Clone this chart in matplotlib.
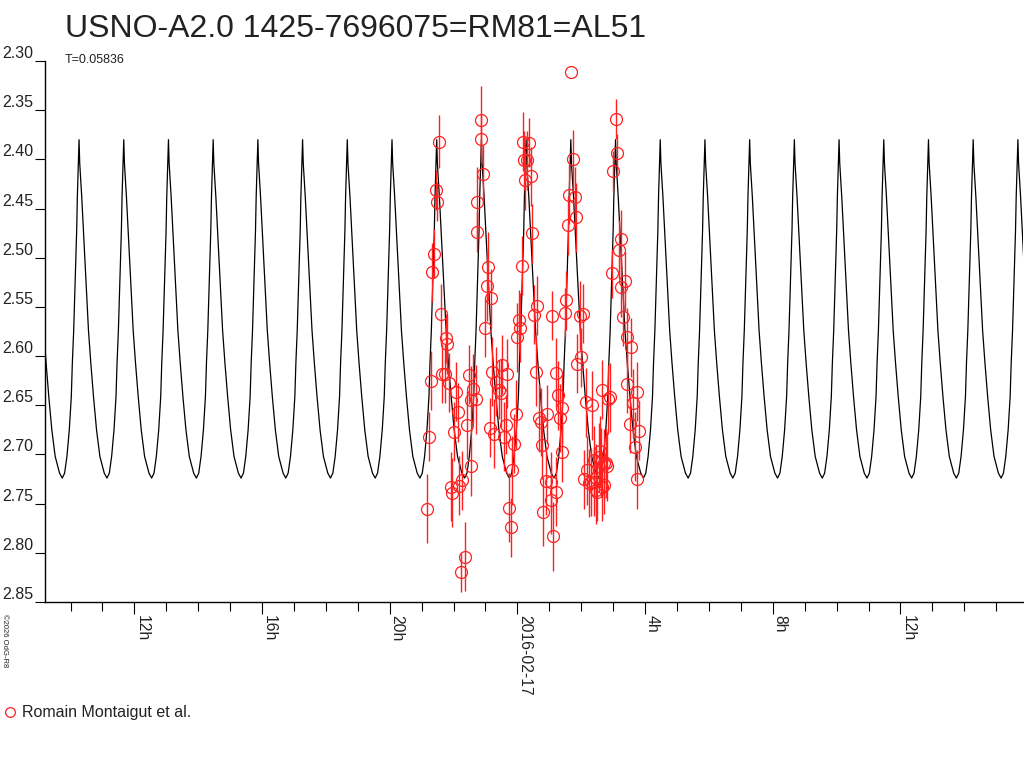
import numpy as np
import matplotlib
matplotlib.use("Agg")
import matplotlib.pyplot as plt
import matplotlib.dates as mdates
from matplotlib.ticker import FixedLocator, FuncFormatter, NullFormatter
from matplotlib.transforms import blended_transform_factory
from matplotlib.lines import Line2D
from datetime import datetime

plt.rcParams['font.family'] = ['Liberation Sans', 'DejaVu Sans']

# ---------------- data ----------------
title = "USNO-A2.0 1425-7696075=RM81=AL51"
period_days = 0.05836
period_label = "T=0.05836"
observer = "Romain Montaigut et al."
epoch_peak_hours = 28.475          # hours after 2016-02-16 00:00 UT (time of a light maximum)

# one cycle of the model light curve (phase 0 = maximum)
template_phase = [0.000, 0.015, 0.060, 0.098, 0.135, 0.173, 0.211, 0.263, 0.323, 0.391,
                  0.466, 0.564, 0.624, 0.677, 0.729, 0.782, 0.827, 0.850, 0.880, 0.902,
                  0.925, 0.947, 0.962, 0.985, 1.000]
template_mag = [2.380, 2.404, 2.438, 2.472, 2.506, 2.540, 2.574, 2.607, 2.641, 2.675,
                2.702, 2.719, 2.724, 2.719, 2.702, 2.675, 2.641, 2.607, 2.574, 2.540,
                2.506, 2.472, 2.438, 2.404, 2.380]

# observations: hours after 2016-02-16 00:00 UT, magnitude, error
obs_hours = [21.172, 21.234, 21.297, 21.328, 21.391, 21.453, 21.484, 21.547, 21.609, 21.641,
             21.734, 21.766, 21.797, 21.859, 21.922, 21.953, 22.016, 22.078, 22.141, 22.172,
             22.234, 22.266, 22.359, 22.422, 22.484, 22.547, 22.547, 22.609, 22.703, 22.734,
             22.734, 22.859, 22.859, 22.922, 22.984, 23.047, 23.078, 23.141, 23.172, 23.203,
             23.266, 23.328, 23.422, 23.484, 23.516, 23.578, 23.641, 23.672, 23.734, 23.797,
             23.828, 23.891, 23.953, 23.984, 24.047, 24.078, 24.141, 24.172, 24.203, 24.234,
             24.297, 24.359, 24.422, 24.453, 24.516, 24.578, 24.609, 24.672, 24.734, 24.766,
             24.797, 24.891, 24.922, 25.047, 25.047, 25.078, 25.109, 25.203, 25.203, 25.266,
             25.328, 25.391, 25.391, 25.484, 25.516, 25.578, 25.609, 25.672, 25.734, 25.797,
             25.828, 25.859, 25.953, 25.984, 26.047, 26.078, 26.141, 26.172, 26.234, 26.297,
             26.328, 26.391, 26.391, 26.453, 26.453, 26.484, 26.547, 26.578, 26.609, 26.641,
             26.641, 26.703, 26.703, 26.766, 26.797, 26.828, 26.891, 26.953, 26.984, 27.078,
             27.109, 27.172, 27.234, 27.234, 27.297, 27.359, 27.422, 27.422, 27.547, 27.516,
             27.609, 27.672, 27.734, 27.734, 27.797]
obs_mag = [2.755, 2.682, 2.625, 2.515, 2.496, 2.431, 2.443, 2.382, 2.557, 2.618,
           2.618, 2.582, 2.588, 2.627, 2.733, 2.739, 2.677, 2.636, 2.657, 2.732,
           2.820, 2.726, 2.804, 2.670, 2.619, 2.645, 2.712, 2.633, 2.644, 2.474,
           2.443, 2.360, 2.379, 2.415, 2.571, 2.529, 2.509, 2.673, 2.541, 2.616,
           2.679, 2.626, 2.634, 2.638, 2.609, 2.682, 2.670, 2.618, 2.754, 2.774,
           2.716, 2.689, 2.659, 2.581, 2.563, 2.571, 2.508, 2.382, 2.401, 2.421,
           2.401, 2.383, 2.417, 2.475, 2.558, 2.616, 2.549, 2.663, 2.667, 2.690,
           2.758, 2.727, 2.659, 2.728, 2.746, 2.559, 2.783, 2.738, 2.617, 2.640,
           2.663, 2.653, 2.698, 2.556, 2.543, 2.467, 2.436, 2.311, 2.400, 2.438,
           2.459, 2.608, 2.559, 2.601, 2.557, 2.725, 2.647, 2.716, 2.729, 2.728,
           2.650, 2.706, 2.728, 2.724, 2.736, 2.738, 2.703, 2.696, 2.708, 2.634,
           2.733, 2.731, 2.709, 2.709, 2.712, 2.644, 2.642, 2.516, 2.412, 2.359,
           2.394, 2.492, 2.481, 2.530, 2.560, 2.524, 2.581, 2.628, 2.591, 2.669,
           2.648, 2.692, 2.636, 2.725, 2.676]
obs_err = [0.035, 0.025, 0.030, 0.030, 0.025, 0.020, 0.020, 0.027, 0.030, 0.030,
           0.030, 0.025, 0.030, 0.030, 0.035, 0.035, 0.030, 0.030, 0.030, 0.030,
           0.020, 0.030, 0.035, 0.035, 0.030, 0.035, 0.030, 0.035, 0.035, 0.020,
           0.035, 0.035, 0.025, 0.030, 0.030, 0.035, 0.035, 0.030, 0.030, 0.035,
           0.035, 0.035, 0.030, 0.035, 0.030, 0.035, 0.030, 0.035, 0.035, 0.030,
           0.035, 0.030, 0.035, 0.035, 0.030, 0.035, 0.030, 0.030, 0.030, 0.030,
           0.030, 0.025, 0.030, 0.030, 0.030, 0.035, 0.030, 0.035, 0.035, 0.035,
           0.035, 0.035, 0.030, 0.030, 0.035, 0.025, 0.035, 0.035, 0.035, 0.035,
           0.035, 0.035, 0.030, 0.025, 0.030, 0.030, 0.030, 0.000, 0.030, 0.030,
           0.035, 0.030, 0.035, 0.030, 0.030, 0.030, 0.035, 0.035, 0.035, 0.035,
           0.035, 0.035, 0.035, 0.035, 0.035, 0.030, 0.035, 0.035, 0.035, 0.030,
           0.035, 0.030, 0.035, 0.035, 0.035, 0.035, 0.035, 0.025, 0.020, 0.020,
           0.020, 0.030, 0.030, 0.030, 0.030, 0.030, 0.030, 0.030, 0.030, 0.030,
           0.035, 0.035, 0.030, 0.030, 0.030]

y_ticks = [2.30, 2.35, 2.40, 2.45, 2.50, 2.55, 2.60, 2.65, 2.70, 2.75, 2.80, 2.85]
x_range_hours = [9.20, 39.84]
day0 = datetime(2016, 2, 16)

# ---------------- figure ----------------
W, H = 1024, 768
fig = plt.figure(figsize=(W / 100, H / 100), dpi=100)
ax = fig.add_axes([45 / W, 1 - 602 / H, 978 / W, 541 / H])

base = mdates.date2num(day0)
to_x = lambda hrs: base + np.asarray(hrs, dtype=float) / 24.0

# model curve tiled over the whole range
P_h = period_days * 24.0
n0 = int(np.floor((x_range_hours[0] - epoch_peak_hours) / P_h)) - 1
n1 = int(np.ceil((x_range_hours[1] - epoch_peak_hours) / P_h)) + 1
ct, cm = [], []
for n in range(n0, n1):
    ct.extend(epoch_peak_hours + (n + np.array(template_phase)) * P_h)
    cm.extend(template_mag)
ax.plot(to_x(ct), cm, color='black', lw=0.9, zorder=2)

# observations
ox = to_x(obs_hours)
ax.errorbar(ox, obs_mag, yerr=obs_err, fmt='none', ecolor='#ff2020', elinewidth=1.0, zorder=3)
ax.plot(ox, obs_mag, linestyle='none', marker='o', markersize=8.6, markerfacecolor='none',
        markeredgecolor='#ff2020', markeredgewidth=0.9, zorder=4)

ax.set_xlim(to_x(x_range_hours[0]), to_x(x_range_hours[1]))
ax.set_ylim(y_ticks[-1], y_ticks[0])

for s in ['top', 'right']:
    ax.spines[s].set_visible(False)
for s in ['left', 'bottom']:
    ax.spines[s].set_linewidth(1.0)

# y ticks
ax.yaxis.set_major_locator(FixedLocator(y_ticks))
ax.yaxis.set_major_formatter(NullFormatter())
ax.tick_params(axis='y', direction='out', length=7.2, width=0.8, left=True)
tr = blended_transform_factory(fig.transFigure, ax.transData)
for v in y_ticks:
    ax.text(2 / W, v, f"{v:.2f}", transform=tr, ha='left', va='bottom', fontsize=11.5,
            color='#222222', clip_on=False)

# x ticks
ax.xaxis.set_major_locator(mdates.HourLocator(byhour=[0, 4, 8, 12, 16, 20]))
ax.xaxis.set_minor_locator(mdates.HourLocator())

def fmt(x, pos):
    d = mdates.num2date(x)
    if d.hour == 0:
        return d.strftime('%Y-%m-%d')
    return f"{d.hour}h"

ax.xaxis.set_major_formatter(FuncFormatter(fmt))
ax.tick_params(axis='x', which='major', direction='out', length=8.6, width=0.8, pad=1,
               labelsize=11.3, labelcolor='#222222')
ax.tick_params(axis='x', which='minor', direction='out', length=6.2, width=0.8)
for lab in ax.get_xticklabels():
    lab.set_rotation(270)
    lab.set_ha('left')
    lab.set_va('top')

# texts
fig.text(65 / W, 1 - 37 / H, title, fontsize=23, color='#222222', ha='left', va='baseline')
fig.text(65 / W, 1 - 63 / H, period_label, fontsize=9, color='#222222', ha='left', va='baseline')
fig.text(1 / W, 1 - 614 / H, "\u00a92026 OdG-R8", fontsize=5.5, rotation=270, ha='left', va='top',
         color='#222222')

handle = Line2D([], [], linestyle='none', marker='o', markersize=7, markerfacecolor='none',
                markeredgecolor='#ff2020', markeredgewidth=0.9)
fig.legend(handles=[handle], labels=[observer], loc='center left',
           bbox_to_anchor=(0 / W, 1 - 713 / H), frameon=False, fontsize=11.5,
           handlelength=0.8, handletextpad=0.4, borderaxespad=0, borderpad=0.2,
           labelcolor='#222222')

fig.savefig('out.png', dpi=100)
